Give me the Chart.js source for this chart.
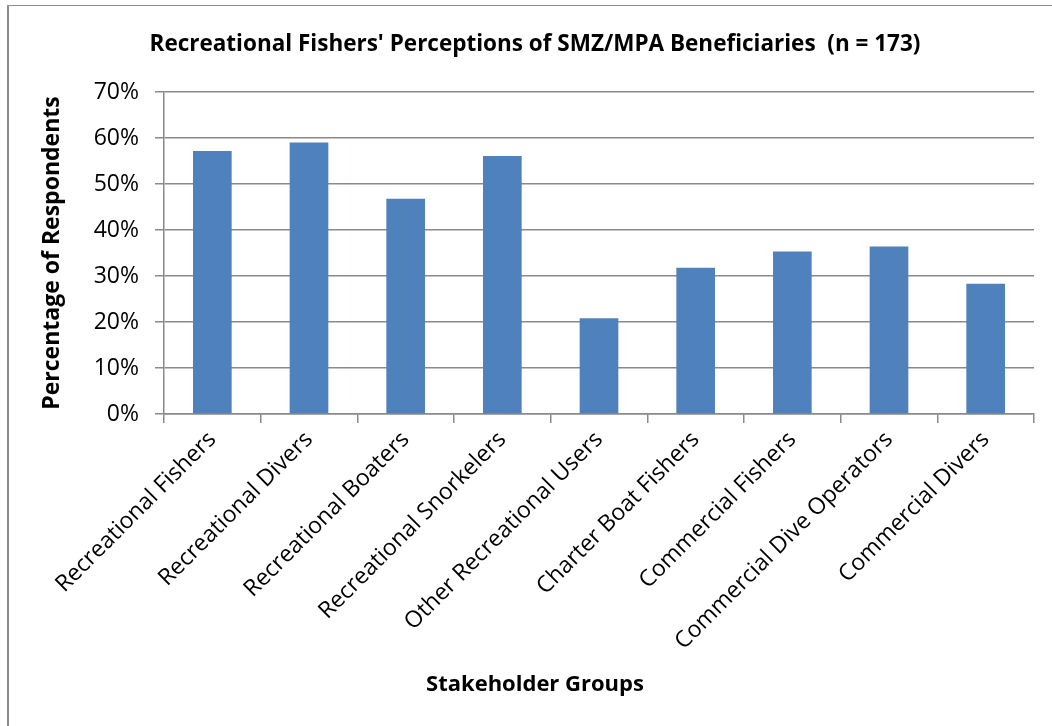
<!DOCTYPE html>
<html>
<head>
<meta charset="utf-8">
<script src="https://cdn.jsdelivr.net/npm/chart.js@4"></script>
<style>
  html, body { margin: 0; padding: 0; background: #fff; overflow: hidden; }
  #wrap { position: absolute; left: 0; top: 0; width: 1070px; height: 726px; }
  #frame { position: absolute; left: 7px; top: 5px; width: 1200px; height: 900px;
           border-left: 2px solid #8c8c8c; border-top: 1px solid #8c8c8c; pointer-events: none; }
</style>
</head>
<body>
<div id="wrap"><canvas id="c" width="1070" height="726"></canvas></div>
<div id="frame"></div>
<script>
const categories = [
  'Recreational Fishers', 'Recreational Divers', 'Recreational Boaters',
  'Recreational Snorkelers', 'Other Recreational Users', 'Charter Boat Fishers',
  'Commercial Fishers', 'Commercial Dive Operators', 'Commercial Divers'
];
const percentages = [57.2, 59.0, 46.8, 56.1, 20.8, 31.8, 35.3, 36.4, 28.3];
const yTicks = [0, 10, 20, 30, 40, 50, 60, 70];
const chartTitle = "Recreational Fishers' Perceptions of SMZ/MPA Beneficiaries  (n = 173)";
const xTitle = 'Stakeholder Groups';
const yTitle = 'Percentage of Respondents';

const FONT = '"Open Sans", Lato, sans-serif';
const GRID = '#8a8a8a';

new Chart(document.getElementById('c'), {
  type: 'bar',
  data: {
    labels: categories,
    datasets: [{
      data: percentages,
      backgroundColor: '#4f81bd',
      borderWidth: 0,
      barPercentage: 0.4,
      categoryPercentage: 1.0
    }]
  },
  options: {
    responsive: false,
    animation: false,
    layout: { padding: { left: 36, right: 36, top: 0, bottom: 0 } },
    plugins: {
      legend: { display: false },
      tooltip: { enabled: false },
      title: {
        display: true, text: chartTitle, color: '#000',
        font: { family: FONT, size: 22.5, weight: 'bold', lineHeight: 1.2 },
        padding: { top: 31, bottom: 34 }
      },
      subtitle: {
        display: true, position: 'bottom', text: xTitle, color: '#000',
        font: { family: FONT, size: 22, weight: 'bold', lineHeight: 1.2 },
        padding: { top: 0, bottom: 27.8 }
      }
    },
    scales: {
      x: {
        offset: true,
        grid: { display: true, offset: true, drawOnChartArea: false, drawTicks: true,
                tickLength: 9, color: GRID, lineWidth: 1.5 },
        border: { display: true, color: GRID, width: 1.5 },
        ticks: { color: '#000', font: { family: FONT, size: 23 }, minRotation: 45, maxRotation: 45,
                 autoSkip: false, padding: 3 },
        afterFit: (s) => { s.height = 257.8; }
      },
      y: {
        min: 0, max: 70,
        afterBuildTicks: (s) => { s.ticks = yTicks.map(v => ({ value: v })); },
        grid: { color: GRID, lineWidth: 1.5, drawTicks: true, tickLength: 9 },
        border: { display: true, color: GRID, width: 1.5 },
        ticks: { color: '#000', font: { family: FONT, size: 23 }, padding: 16,
                 callback: (v) => v + '%' },
        title: { display: true, text: yTitle, color: '#000',
                 font: { family: FONT, size: 23, weight: 'bold', lineHeight: 1.2 },
                 padding: { top: 3, bottom: 0 } },
        afterFit: (s) => { s.width = 128; }
      }
    }
  }
});
</script>
</body>
</html>
